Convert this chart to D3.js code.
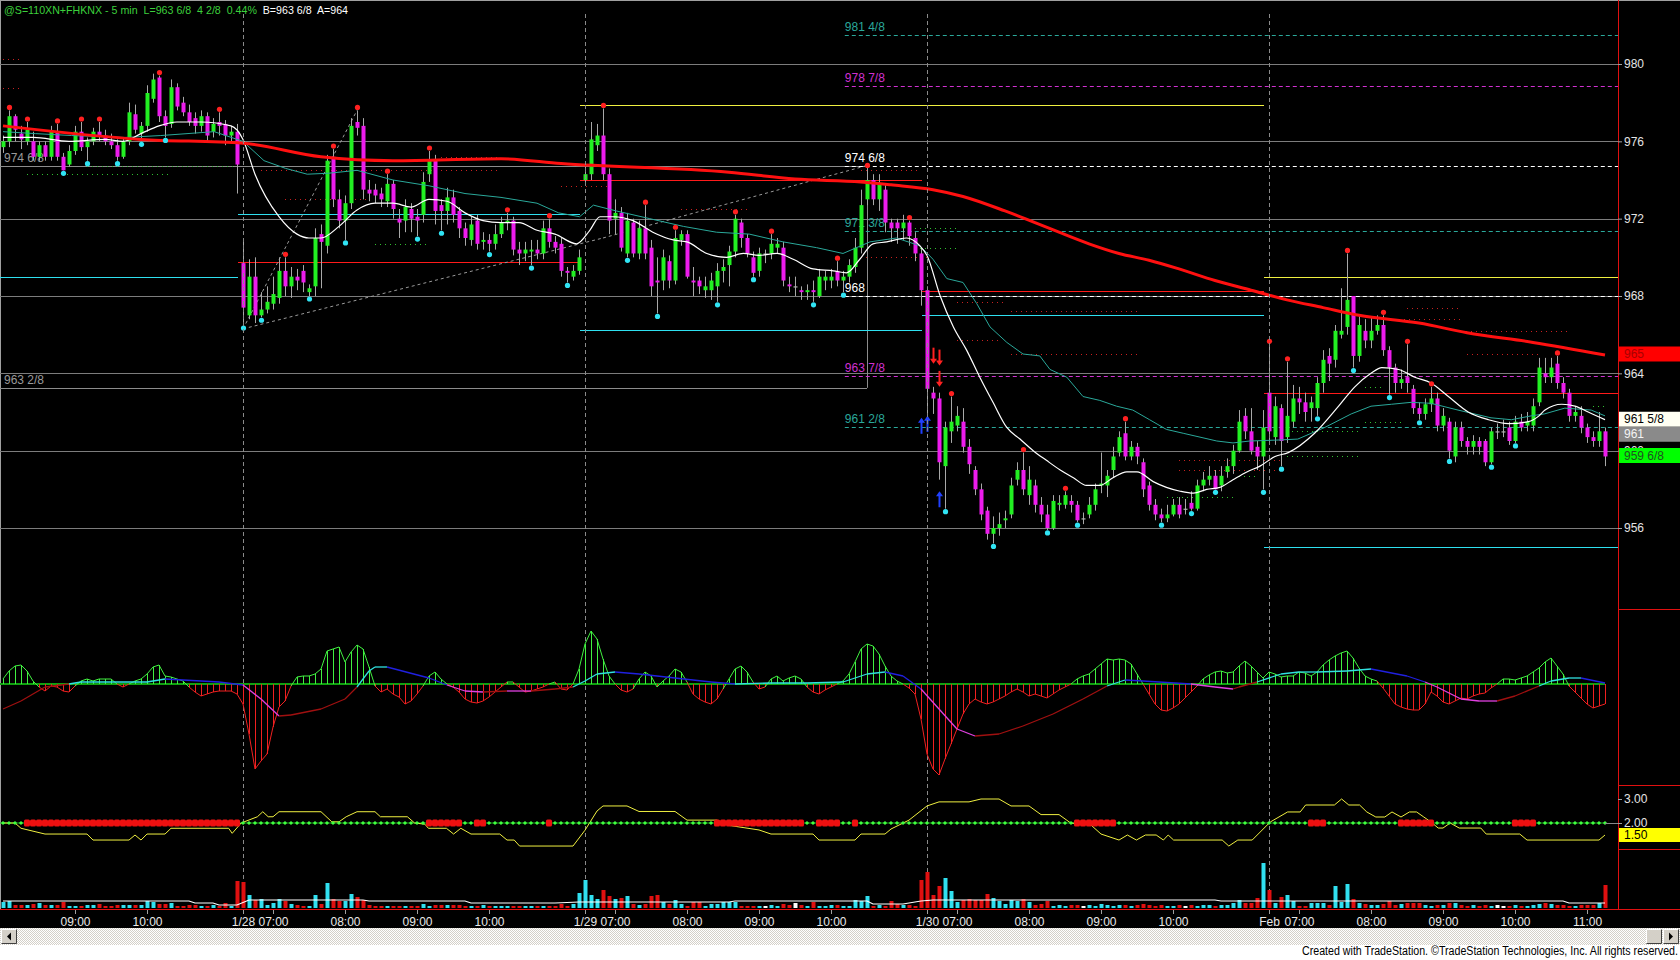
<!DOCTYPE html>
<html><head><meta charset="utf-8">
<script src="https://cdn.jsdelivr.net/npm/d3@7"></script>
<style>html,body{margin:0;padding:0;background:#000;overflow:hidden}svg{display:block}text{font-family:"Liberation Sans",Arial,sans-serif}</style>
</head><body>
<svg id="c" width="1680" height="960"></svg>
<script>
// ---------------- DATA ----------------
const open = [
975.7,976.0,977.3,976.4,976.0,976.0,975.2,975.8,975.2,976.5,975.2,974.8,975.5,976.5,975.7,976.0,976.5,976.3,976.0,975.8,975.2,976.0,977.4,976.4,976.8,978.2,979.3,977.3,976.9,978.8,978.0,977.5,977.2,976.8,977.3,976.5,977.0,976.9,976.3,976.5,
969.7,967.0,969.0,967.0,967.3,967.6,967.9,969.3,968.5,969.0,969.3,968.2,968.5,971.2,970.6,975.2,973.0,971.9,972.8,977.0,976.8,973.5,973.5,973.3,972.9,973.8,972.0,971.9,972.5,972.1,972.2,974.3,975.0,972.7,972.4,973.1,972.4,971.5,970.9,971.9,970.8,970.9,970.7,971.2,971.8,971.9,970.4,970.2,970.3,970.4,970.2,971.5,970.8,970.7,969.3,969.0,969.3,
974.0,974.3,975.8,976.3,974.3,972.0,972.3,970.2,971.8,970.2,971.5,970.5,968.8,968.8,969.8,968.8,970.9,971.2,968.8,968.8,968.3,968.3,968.5,969.3,969.6,970.3,971.8,971.0,970.0,969.3,970.2,970.2,970.5,970.5,968.6,968.5,968.3,968.2,968.3,968.0,968.8,968.8,969.3,968.8,969.0,969.5,970.5,973.0,974.0,973.0,973.5,971.8,971.8,971.5,971.8,971.0,970.2,
968.3,963.0,962.7,959.2,961.0,961.3,961.5,960.2,959.0,958.0,956.9,955.7,956.0,956.4,956.7,958.5,959.0,957.7,958.2,957.2,956.7,956.0,957.2,957.2,957.4,957.2,956.5,956.7,957.2,958.2,958.2,959.0,959.9,960.9,959.7,960.2,959.4,958.2,957.2,956.7,956.5,956.7,957.2,957.0,957.3,957.0,958.2,958.5,958.7,958.2,958.9,959.2,960.0,961.8,961.0,960.2,959.7,
963.0,960.7,962.2,960.7,961.5,962.7,962.5,962.2,962.2,963.5,964.9,964.7,966.0,966.4,968.0,964.9,966.2,965.7,966.2,966.5,965.2,964.3,963.5,963.8,963.2,962.2,961.9,962.4,962.7,961.3,961.5,959.7,961.2,960.5,960.2,960.5,960.5,959.4,961.0,961.0,961.2,960.5,961.5,961.3,961.3,962.5,964.0,963.8,964.5,963.5,963.0,961.8,961.8,961.2,960.7,960.5,961.0];
const high = [
976.3,977.6,977.4,976.8,977.0,976.5,976.0,976.0,976.8,976.9,975.4,975.8,976.8,977.0,976.2,976.7,977.0,976.6,976.4,976.1,976.2,978.0,977.9,977.0,978.9,979.5,979.4,977.6,979.2,979.0,978.3,977.9,977.5,977.6,977.5,977.2,977.5,977.1,976.8,976.9,
971.0,969.9,970.0,968.2,968.5,969.0,970.0,970.0,969.5,969.4,969.6,968.6,971.5,971.7,975.3,975.6,973.5,973.2,977.2,977.6,977.2,974.0,973.8,973.6,974.3,974.0,972.5,973.0,972.8,972.5,974.4,975.5,975.3,973.0,973.6,973.5,972.6,971.8,972.1,972.2,971.3,971.2,971.7,972.1,972.3,972.1,970.8,970.8,970.9,970.9,971.9,972.0,971.1,971.0,969.5,969.6,970.4,
974.8,977.0,976.9,977.7,974.6,973.0,972.6,972.3,972.0,971.9,972.7,970.9,970.0,970.4,970.1,971.4,971.4,971.4,969.5,969.0,969.0,969.2,969.7,969.9,970.6,972.2,972.0,971.2,970.3,970.5,970.4,971.2,971.0,970.8,969.0,969.0,968.5,968.6,968.8,969.4,969.3,969.4,969.8,969.3,969.9,971.0,973.5,974.6,974.3,974.3,973.8,972.0,972.0,972.2,971.9,971.3,970.5,
968.5,963.3,963.0,961.5,962.8,962.3,962.2,960.6,959.2,958.3,957.1,956.6,956.8,956.9,958.6,959.4,959.9,959.2,958.5,957.6,957.2,957.7,957.7,957.9,957.7,957.4,956.8,957.6,958.3,959.9,959.0,960.2,961.0,961.5,960.5,960.4,959.6,958.4,957.5,957.0,957.2,957.5,957.6,957.5,957.9,958.5,958.9,959.2,959.0,959.2,959.6,960.3,962.1,962.2,962.2,960.5,962.1,
965.5,962.8,962.4,964.6,963.4,963.3,963.0,962.8,963.8,965.2,965.3,966.5,968.4,970.2,968.0,967.0,966.8,966.9,967.0,967.0,965.4,964.5,964.2,965.5,963.4,962.5,962.7,963.3,963.0,962.2,961.7,961.5,961.5,960.7,960.8,960.7,960.6,961.2,961.4,961.6,961.5,961.8,961.9,962.0,962.7,964.8,964.8,964.8,964.9,963.8,963.2,962.3,962.3,961.4,961.0,962.0,961.2];
const low = [
975.4,975.7,976.0,975.6,975.8,975.0,975.0,975.0,975.0,975.0,974.5,974.7,975.3,975.5,975.0,975.8,976.0,975.8,975.6,975.0,975.1,975.8,976.4,976.0,976.5,978.0,977.0,976.2,976.7,977.6,977.3,976.8,976.4,976.5,976.0,976.2,976.3,975.8,975.9,973.3,
966.5,966.8,966.6,966.9,967.1,967.3,967.6,968.0,967.9,968.3,968.2,968.0,968.0,968.4,970.2,972.6,971.5,970.9,972.5,976.3,973.0,972.9,972.8,972.6,972.6,972.0,971.0,971.3,971.3,971.1,971.8,973.9,971.7,971.4,971.7,971.8,971.0,970.6,970.6,970.4,970.4,970.3,970.4,971.0,971.4,970.1,969.6,969.8,969.6,969.9,969.9,970.5,970.2,969.0,968.7,968.8,969.1,
973.8,974.0,975.5,974.0,971.2,971.2,970.3,970.0,970.0,969.9,969.9,968.0,967.1,968.3,968.4,968.6,970.6,968.9,968.0,968.1,967.9,967.8,967.7,968.7,968.5,970.0,970.5,970.0,969.0,969.0,969.7,969.9,970.2,968.5,968.2,968.0,967.8,967.8,967.7,967.9,968.3,968.4,968.5,968.2,968.7,969.2,970.2,972.7,972.7,972.4,971.3,970.8,970.7,970.9,970.6,969.8,967.5,
961.5,961.9,958.5,957.0,960.4,961.0,959.9,958.8,957.7,956.4,955.4,955.2,955.6,956.0,956.5,958.2,957.7,957.2,956.8,956.3,955.9,955.9,956.9,957.0,956.8,956.3,956.2,956.5,956.9,957.8,957.6,958.6,959.7,959.5,959.5,959.3,957.6,956.9,956.4,956.3,956.3,956.6,956.5,956.7,956.9,956.9,957.9,958.2,958.0,957.9,958.6,958.8,959.9,960.6,959.8,959.0,958.0,
960.5,960.3,959.2,960.4,961.2,961.9,961.5,961.5,961.8,963.0,963.6,964.3,965.8,966.0,964.3,964.6,965.3,965.3,966.0,964.9,962.9,963.0,963.2,963.0,961.9,961.6,961.6,962.0,961.0,961.0,959.6,959.4,960.2,959.8,959.8,959.8,959.2,959.3,960.6,960.7,960.3,960.4,961.0,961.0,961.0,962.3,963.5,963.5,963.2,962.7,961.5,961.5,960.9,960.4,960.2,960.2,959.2];
const close = [
976.0,977.3,976.6,976.1,976.6,975.2,975.8,975.2,976.5,975.2,974.5,975.5,976.5,975.7,976.0,976.5,976.3,976.0,975.8,975.2,976.0,977.5,976.6,976.8,978.5,979.2,977.3,976.8,978.8,977.8,977.5,977.0,976.8,977.3,976.3,976.9,976.8,976.3,976.5,974.8,
967.4,969.0,967.0,967.3,967.7,968.1,969.3,968.5,969.0,968.8,968.7,968.4,971.0,970.8,975.0,973.0,971.9,972.8,976.8,976.7,973.5,973.3,973.2,973.0,973.8,972.5,971.8,972.6,972.0,971.9,973.9,975.0,972.4,972.4,973.1,972.2,971.5,971.0,971.7,970.7,970.9,970.7,971.2,971.8,971.9,970.4,970.2,970.4,970.4,970.2,971.5,970.8,970.5,969.3,969.2,969.3,970.0,
974.3,976.1,976.3,974.3,971.9,972.3,970.5,971.9,970.2,971.5,970.2,968.5,968.7,970.0,968.8,971.0,971.2,969.0,968.7,968.5,968.5,968.8,969.3,969.5,970.3,972.0,971.0,970.2,969.2,970.2,970.2,970.7,970.7,968.8,968.5,968.5,968.2,968.3,968.2,969.0,969.0,969.0,968.8,969.0,969.6,970.5,972.7,974.0,973.0,973.8,971.8,971.5,971.5,971.8,971.1,970.2,968.3,
963.2,962.7,959.4,961.2,961.5,961.8,960.2,959.3,958.0,956.7,955.7,956.0,956.2,956.5,958.2,959.0,958.0,958.5,957.2,956.7,956.0,957.4,957.3,957.7,957.2,956.4,956.5,957.2,958.0,958.3,958.7,959.7,960.7,959.7,960.2,959.7,958.0,957.2,956.7,956.5,956.7,957.2,956.7,957.0,957.0,958.2,958.5,958.7,958.0,958.7,959.2,960.0,961.5,961.0,960.0,959.7,961.2,
961.0,962.3,960.5,961.8,962.7,962.5,962.0,962.5,963.5,964.7,964.5,966.2,966.2,967.8,964.9,966.5,965.7,966.2,966.5,965.2,964.3,963.5,963.7,963.5,962.2,961.9,962.4,962.7,961.3,961.8,960.0,961.2,960.5,960.2,960.5,960.2,959.4,961.0,961.0,961.0,960.5,961.5,961.2,961.5,962.3,964.3,963.8,964.3,963.5,963.0,961.8,962.0,961.2,960.7,960.5,961.0,959.7];
const volume = [
6,7,3,3,3,4,5,3,3,3,6,2,2,2,3,3,4,2,2,3,3,3,3,3,7,6,4,4,5,2,2,3,3,2,2,3,2,5,2,27,
26,13,8,9,3,5,9,7,4,3,2,2,13,4,25,9,7,7,14,11,8,3,2,2,2,2,2,2,2,2,4,2,3,3,3,3,3,2,2,2,3,2,2,2,2,2,2,2,2,2,2,2,2,4,2,4,15,
28,13,9,18,12,9,10,12,4,3,4,12,13,6,4,8,4,2,6,6,2,4,4,6,6,6,2,2,2,2,2,3,2,4,3,5,3,2,6,2,2,3,3,2,2,8,7,12,2,3,2,7,4,3,3,2,28,
36,13,22,30,17,6,8,9,8,8,14,10,7,4,8,7,9,6,3,4,7,2,3,2,3,3,2,3,2,4,3,2,3,3,2,3,4,3,2,3,2,2,3,2,3,2,3,3,2,3,3,5,8,5,5,10,45,
18,5,11,13,7,2,2,5,5,5,3,22,6,24,9,5,4,3,3,4,7,3,4,5,5,5,3,2,3,3,5,5,3,2,3,2,3,2,3,2,2,3,2,2,3,4,5,4,3,3,2,2,3,3,3,5,23];
const volAvg = [[0,7],[31,7],[32,5],[35,5],[36,3],[39,3],[41,8],[60,8],[61,7],[77,7],[78,5],[92,5],[96,6],[121,6],[122,7],[144,7],[145,4],[150,4],[153,7],[155,8],[202,8],[203,7],[260,7],[261,5],[267,5]];
const redMA = [[0,976.8],[23,976.1],[40,975.9],[53,975.2],[65,975.0],[83,975.1],[93,974.85],[121,974.4],[132,974.05],[143,973.9],[148,973.75],[155,973.5],[160,973.15],[167,972.4],[172,971.8],[176,971.3],[181,970.7],[186,970.2],[191,969.85],[196,969.4],[202,968.8],[208,968.3],[214,967.8],[220,967.4],[226,967.0],[236,966.6],[244,966.1],[255,965.6],[267,964.95]];
const whiteMA = [[0,976.2],[5,976.2],[11,976.0],[17,976.1],[20,976.0],[23,976.4],[26,976.8],[29,977.0],[33,977.0],[38,976.8],[40,976.1],[42,974.3],[46,972.1],[49,971.2],[51,971.0],[53,971.0],[56,971.6],[59,972.45],[62,972.8],[65,972.8],[68,972.6],[71,973.0],[74,972.9],[77,972.3],[80,971.9],[83,971.8],[86,971.8],[89,971.4],[92,971.2],[95.6,970.7],[97.8,971.4],[99.5,972.1],[101.7,972.1],[105,971.9],[108.3,971.3],[111.7,970.9],[114,970.8],[117.3,970.2],[120.6,970.0],[123.4,970.2],[126,970.1],[129,970.2],[131.7,969.9],[135,969.4],[138.4,969.3],[140.6,969.2],[142.8,969.9],[145,970.7],[147.3,970.8],[150.6,971.0],[152.8,970.6],[154,970.1],[156.2,968.0],[158.4,966.4],[160.6,965.2],[162.8,963.8],[165,962.5],[167.3,961.2],[169.5,960.6],[171.7,960.0],[173.9,959.5],[176.2,959.0],[178.4,958.6],[180.6,958.2],[182.8,958.2],[185,958.6],[187.3,958.9],[189,958.9],[191.7,958.4],[193.9,958.1],[196.2,957.9],[198.4,957.8],[200.6,958.0],[202.8,958.1],[205,958.5],[207.3,958.9],[209.5,959.2],[212,959.7],[214.2,959.9],[218.6,960.9],[222.6,962.3],[225.3,963.3],[228,964.0],[229.8,964.3],[232.6,964.2],[235.3,963.8],[238,963.5],[240.9,962.8],[244.2,962.0],[247.6,961.6],[250.9,961.4],[254.2,961.5],[256,961.8],[257,962.1],[259.8,962.4],[262,962.3],[264.2,962.0],[267,961.6]];
const tealMA = [[0,976.5],[5.4,976.4],[11.4,976.3],[20.3,976.2],[26.3,976.3],[35.2,976.5],[40,976.0],[43.5,975.0],[47.1,974.6],[50.7,974.3],[54.3,974.35],[59,974.5],[65,974.0],[71,973.7],[77,973.3],[83,973.1],[89,972.8],[92.6,972.3],[96.1,972.1],[98.4,972.7],[102.2,972.4],[107.8,972.0],[113.4,971.6],[118.9,971.3],[124.4,971.2],[130,970.8],[135.6,970.5],[140,970.2],[144.5,970.8],[148.9,971.0],[152.8,970.6],[155,969.9],[157.3,968.9],[160,968.7],[162.3,967.6],[164.5,966.4],[167.3,965.6],[170,965.0],[172.8,964.9],[174.5,964.2],[177.3,963.8],[180,962.8],[182.8,962.6],[185.6,962.3],[188.3,962.1],[191.1,961.6],[193.9,961.1],[196.7,960.9],[199.5,960.7],[202.3,960.5],[205,960.4],[207.8,960.5],[212.5,960.55],[215.8,960.6],[220.3,961.2],[224.7,961.9],[228,962.3],[231.4,962.4],[234.7,962.5],[238,962.45],[242.5,962.1],[248,961.7],[251.4,961.6],[254.7,961.8],[256.9,961.9],[260.3,962.2],[264.7,962.1],[267,961.8]];
const redDots = [1,4,9,13,16,26,36,47,55,59,64,71,84,91,100,107,112,122,128,139,144,151,158,170,177,187,211,214,224,230,234,238,259];
const cyanDots = [10,14,19,23,27,40,43,51,57,69,73,81,88,94,104,109,119,125,135,140,157,165,174,179,193,198,202,210,213,219,225,231,236,241,248,252];
const histogram = [
5,13,18,19,13,3,-3,-7,-2,-3,-7,-8,-2,3,5,3,5,5,5,0,-3,0,3,5,10,17,19,8,7,5,3,-3,-8,-12,-10,-8,-7,-7,-7,-10,
-20,-50,-85,-77,-70,-43,-23,-17,-2,7,8,8,10,15,33,35,37,22,32,39,35,17,-2,-8,-5,-10,-13,-20,-17,-10,-2,8,12,5,0,-3,-8,-15,-18,-19,-17,-13,-8,-3,2,2,-3,-8,-7,-5,-3,0,2,-5,-6,0,15,
40,53,45,25,8,0,-6,-8,-5,5,12,8,-3,3,8,15,12,2,-10,-15,-18,-20,-15,-5,5,15,18,12,2,-5,-3,5,8,3,6,8,5,-3,-8,-10,-6,-3,0,3,10,22,35,40,38,30,18,8,3,0,-4,-10,-35,
-70,-85,-91,-75,-60,-45,-30,-20,-15,-18,-20,-18,-15,-12,-8,-5,-8,-12,-10,-12,-14,-10,-6,-3,0,5,8,10,15,20,25,24,25,24,20,10,0,-10,-20,-26,-27,-24,-20,-14,-8,-2,5,9,12,13,11,12,18,23,18,12,6,
12,10,7,8,8,12,11,8,12,19,24,28,31,33,26,16,8,5,3,-4,-12,-20,-23,-25,-26,-26,-20,-8,-12,-18,-20,-17,-14,-15,-12,-10,-9,-4,0,5,5,4,6,8,12,16,22,26,18,10,-2,-8,-14,-20,-24,-22,-20];
const signal = [[0,-25],[3,-17],[7,-3],[11,0],[13,2],[24,2],[27,5],[30,4],[36,2],[40,-1],[43,-15],[46,-32],[48,-31],[53,-25],[57,-15],[59,-3],[61,13],[62,17],[64,17],[71,6],[74,-1],[77,-7],[80,-8],[84,-7],[88,-7],[92,-5],[95,-3],[97,3],[99,10],[102,12],[106,10],[112,6],[118,2],[122,0],[128,1],[134,1],[140,2],[144,10],[147,12],[150,8],[153,-5],[156,-25],[159,-45],[162,-52],[166,-50],[170,-42],[175,-30],[180,-15],[184,-2],[187,4],[190,3],[198,0],[202,-3],[205,-5],[206,-3],[209,2],[213,10],[216,12],[219,12],[224,13],[228,15],[234,8],[237,2],[239,-3],[243,-15],[246,-17],[249,-17],[252,-12],[256,-2],[258,3],[261,6],[263,6],[267,1]];
const ratio = [[0,2.0],[2,2.0],[3,1.78],[7,1.54],[14,1.54],[15,1.29],[21,1.29],[22,1.5],[23,1.29],[24,1.54],[27,1.54],[28,1.78],[37.6,1.78],[38.2,1.57],[39.7,2.0],[42.4,2.26],[43.3,2.47],[44.2,2.26],[45,2.26],[46,2.47],[53,2.47],[54.8,2.05],[56,2.05],[57.2,2.26],[59,2.47],[62,2.47],[62.9,2.26],[67.4,2.26],[68.6,2.0],[70.3,1.95],[70.9,1.78],[73.9,1.78],[75.1,1.54],[76.3,1.78],[78,1.54],[82.8,1.54],[84,1.29],[85.2,1.29],[86.1,1.04],[95,1.04],[97,1.7],[99,2.5],[100,2.71],[104,2.71],[106,2.48],[112,2.48],[114,2.12],[119,2.12],[121,1.9],[126,1.71],[128,1.54],[135,1.54],[136,1.29],[142,1.29],[143,1.54],[147,1.54],[148,1.75],[151,2.12],[154,2.71],[156,2.88],[161,2.88],[163,3.0],[166,3.0],[168,2.71],[171,2.71],[173,2.35],[176,2.35],[178,1.99],[181,1.99],[183,1.54],[186,1.29],[187.4,1.5],[188.9,1.29],[190.4,1.5],[192.2,1.5],[193.4,1.29],[194.2,1.5],[195.1,1.29],[203.2,1.29],[204.3,1.04],[205.8,1.29],[208.2,1.29],[211.2,2.04],[214.1,2.46],[216.2,2.46],[217.1,2.75],[221.9,2.75],[223.1,3.0],[224.3,2.75],[226.1,2.75],[227.3,2.46],[228.8,2.25],[230.3,2.25],[231.5,2.46],[233,2.25],[234.4,2.46],[235.6,2.46],[236.8,2.25],[238,2.04],[239.2,1.79],[240,1.79],[241.2,2.0],[242.7,1.79],[246.3,1.79],[247.2,1.54],[252.8,1.54],[254,1.29],[266,1.29],[267,1.5]];
const redFlagRanges = [[4,39],[71,76],[79,80],[91,91],[119,133],[136,139],[142,142],[179,185],[218,220],[233,238],[252,255]];
const priceTicks = [980,976,972,968,964,960,956];
const ratioTicks = [3,2];
const timeTicks = [[12,"09:00"],[24,"10:00"],[40,"1/28"],[45,"07:00"],[57,"08:00"],[69,"09:00"],[81,"10:00"],[97,"1/29"],[102,"07:00"],[114,"08:00"],[126,"09:00"],[138,"10:00"],[154,"1/30"],[159,"07:00"],[171,"08:00"],[183,"09:00"],[195,"10:00"],[211,"Feb"],[216,"07:00"],[228,"08:00"],[240,"09:00"],[252,"10:00"],[264,"11:00"]];
const dayBreaks = [40,97,154,211];
const sessionLevels = [[-10,40,969.0,"cyan"],[40,97,972.25,"cyan"],[40,97,969.75,"red"],[97,154,966.25,"cyan"],[97,154,974.0,"red"],[97,211,977.9,"yellow"],[154,211,967.0,"cyan"],[154,211,968.25,"red"],[211,270,955.0,"cyan"],[211,270,963.0,"red"],[211,270,969.0,"yellow"]];
const pivotLevels = [[981.5,"981 4/8","teal"],[978.875,"978 7/8","magenta"],[974.75,"974 6/8","white"],[971.375,"971 3/8","teal"],[968.0,"968","white"],[963.875,"963 7/8","magenta"],[961.25,"961 2/8","teal"]];
const pivotStart = 140.3;
const boxLevels = [[974.75,"974 6/8"],[963.25,"963 2/8"]];
const boxEnd = 144;
const trendLines = [[[40,966.3],[59,977.6]],[[40,966.3],[100,971.0]],[[100,971.0],[144,974.75]]];
const redDotted = [[0,3,980.25],[0,3,978.75],[43,83,974.5],[47,61,973.0],[73,83,975.2],[93,101,973.7],[113,124,972.5],[143,153,974.5],[143,154,970.0],[159,167,967.7],[168,189,967.2],[159,166,965.7],[168,189,965.0],[196,213,959.5],[196,213,959.0],[234,243,967.4],[231,243,966.8],[243,261,966.2],[244,256,965.0]];
const greenDotted = [[4,28,974.3],[14,39,974.75],[62,71,970.7],[152,159,971.5],[152,159,970.5],[206,209,958.7],[194,205,957.6],[227,230,963.3],[227,233,961.5],[214,226,961.0],[214,226,959.7],[265,267,962.3]];
const downArrows = [[155,964.5],[156,964.4],[156,963.3]];
const upArrows = [[153,961.7],[154,961.8],[156,957.9]];
const axisBoxes = [[965,"965","#ff0000","#a80000"],[961.625,"961 5/8","#fffff2","#000000"],[961.0,"961","#8a8a8a","#f4f4f4"],[959.75,"959 6/8","#00ff00","#205020"]];
const ratioBox = [1.5,"1.50","#ffff00","#000000"];
const titleGreen = "@S=110XN+FHKNX - 5 min  L=963 6/8  4 2/8  0.44%  ";
const titleWhite = "B=963 6/8  A=964";
const credit = "Created with TradeStation. \u00A9TradeStation Technologies, Inc. All rights reserved.";

// ---------------- DRAWING ----------------
const W = 1680, H = 960, AX = 1618;
const C = {cyan:"#2ee0f0", red:"#ff1a1a", yellow:"#f0f040", teal:"#2aa89a", magenta:"#d030d0", white:"#ffffff"};
const svg = d3.select("#c");
svg.append("rect").attr("width", W).attr("height", H).attr("fill", "#000");
const defs = svg.append("defs");
function clip(id, x0, y0, w, h){ defs.append("clipPath").attr("id", id).append("rect").attr("x", x0).attr("y", y0).attr("width", w).attr("height", h); }
clip("cp", 0, 3, AX, 606); clip("co", 0, 609, AX, 176); clip("cd", 0, 785, AX, 64); clip("cv", 0, 849, AX, 60);
const pat = defs.append("pattern").attr("id", "hatch").attr("width", 2).attr("height", 2).attr("patternUnits", "userSpaceOnUse");
pat.append("rect").attr("width", 2).attr("height", 2).attr("fill", "#ffffff");
pat.append("rect").attr("width", 1).attr("height", 1).attr("fill", "#d4d0c8");
pat.append("rect").attr("x", 1).attr("y", 1).attr("width", 1).attr("height", 1).attr("fill", "#d4d0c8");

const N = close.length;
const x = d3.scaleLinear().domain([0, N - 1]).range([3, 1605]);
const yP = d3.scaleLinear().domain([980, 956]).range([64, 528]);
const yO = d3.scaleLinear().domain([-100, 100]).range([784, 584]);
const yD = d3.scaleLinear().domain([1, 3]).range([847, 799]);
const yV = d3.scaleLinear().domain([0, 60]).range([908, 848]);
const xe = i => x(i) - 5;
const bars = d3.range(N).map(i => ({i, o: open[i], h: high[i], l: low[i], c: close[i], v: volume[i]}));

svg.append("line").attr("x1", 0).attr("x2", W).attr("y1", 0.5).attr("y2", 0.5).attr("stroke", "#a0a0a0");
svg.append("line").attr("x1", 0.5).attr("x2", 0.5).attr("y1", 0).attr("y2", 909).attr("stroke", "#a0a0a0");

// ---- price panel ----
const gP = svg.append("g").attr("clip-path", "url(#cp)");
gP.selectAll(".grid").data(priceTicks).join("line")
  .attr("x1", 0).attr("x2", AX).attr("y1", d => Math.round(yP(d)) + 0.5).attr("y2", d => Math.round(yP(d)) + 0.5)
  .attr("stroke", "#7c7c7c");
svg.append("g").selectAll("line").data(dayBreaks).join("line")
  .attr("x1", d => x(d) + 0.5).attr("x2", d => x(d) + 0.5).attr("y1", 14).attr("y2", 913)
  .attr("stroke", "#8a8a8a").attr("stroke-dasharray", "4,3");
boxLevels.forEach(([p, lab]) => {
  gP.append("line").attr("x1", 0).attr("x2", x(boxEnd)).attr("y1", Math.round(yP(p)) + 0.5).attr("y2", Math.round(yP(p)) + 0.5).attr("stroke", "#8c8c8c");
  gP.append("text").attr("x", 4).attr("y", yP(p) - 4).attr("fill", "#9a9a9a").attr("font-size", 12).text(lab);
});
gP.append("line").attr("x1", x(boxEnd) + 0.5).attr("x2", x(boxEnd) + 0.5).attr("y1", yP(boxLevels[0][0])).attr("y2", yP(boxLevels[1][0])).attr("stroke", "#8c8c8c");
pivotLevels.forEach(([p, lab, col]) => {
  gP.append("line").attr("x1", x(pivotStart)).attr("x2", AX).attr("y1", Math.round(yP(p)) + 0.5).attr("y2", Math.round(yP(p)) + 0.5)
    .attr("stroke", C[col]).attr("stroke-dasharray", "4,3");
  gP.append("text").attr("x", x(pivotStart)).attr("y", yP(p) - 4).attr("fill", C[col]).attr("font-size", 12).text(lab);
});
gP.selectAll(".sl").data(sessionLevels).join("line")
  .attr("x1", d => xe(d[0])).attr("x2", d => xe(d[1])).attr("y1", d => Math.round(yP(d[2])) + 0.5).attr("y2", d => Math.round(yP(d[2])) + 0.5)
  .attr("stroke", d => C[d[3]]).attr("stroke-width", 1.2);
gP.selectAll(".rd").data(redDotted).join("line")
  .attr("x1", d => x(d[0])).attr("x2", d => x(d[1])).attr("y1", d => Math.round(yP(d[2])) + 0.5).attr("y2", d => Math.round(yP(d[2])) + 0.5)
  .attr("stroke", "#c82020").attr("stroke-dasharray", "1,4");
gP.selectAll(".gd").data(greenDotted).join("line")
  .attr("x1", d => x(d[0])).attr("x2", d => x(d[1])).attr("y1", d => Math.round(yP(d[2])) + 0.5).attr("y2", d => Math.round(yP(d[2])) + 0.5)
  .attr("stroke", "#30c030").attr("stroke-dasharray", "1,4");
gP.selectAll(".tl").data(trendLines).join("line")
  .attr("x1", d => x(d[0][0])).attr("y1", d => yP(d[0][1])).attr("x2", d => x(d[1][0])).attr("y2", d => yP(d[1][1]))
  .attr("stroke", "#9a9a9a").attr("stroke-dasharray", "3,3");
gP.selectAll(".wick").data(bars).join("line")
  .attr("x1", d => x(d.i) + 0.5).attr("x2", d => x(d.i) + 0.5).attr("y1", d => yP(d.h)).attr("y2", d => yP(d.l))
  .attr("stroke", "#a8a8a8");
gP.selectAll(".body").data(bars).join("rect")
  .attr("x", d => x(d.i) - 1.5).attr("width", 4)
  .attr("y", d => Math.min(yP(d.o), yP(d.c)))
  .attr("height", d => Math.max(1.2, Math.abs(yP(d.o) - yP(d.c))))
  .attr("fill", d => d.c > d.o ? "#22f022" : d.c < d.o ? "#ec1cec" : "#b0b0b0");
const lineP = d3.line().x(d => x(d[0])).y(d => yP(d[1]));
gP.append("path").datum(tealMA).attr("d", lineP.curve(d3.curveLinear)).attr("fill", "none").attr("stroke", C.teal).attr("stroke-width", 1);
gP.append("path").datum(whiteMA).attr("d", lineP.curve(d3.curveMonotoneX)).attr("fill", "none").attr("stroke", "#ffffff").attr("stroke-width", 1.2);
gP.append("path").datum(redMA).attr("d", lineP.curve(d3.curveMonotoneX)).attr("fill", "none").attr("stroke", "#ff1010").attr("stroke-width", 3);
gP.selectAll(".rdot").data(redDots).join("circle").attr("cx", d => x(d) + 0.5).attr("cy", d => yP(high[d]) - 3).attr("r", 2.6).attr("fill", "#ff2020");
gP.selectAll(".cdot").data(cyanDots).join("circle").attr("cx", d => x(d) + 0.5).attr("cy", d => yP(low[d]) + 3).attr("r", 2.6).attr("fill", "#30e4f4");
function arrow(g, i, p, dir, col){
  const xx = x(i) + 0.5, tip = yP(p), base = tip - dir * 16;
  g.append("line").attr("x1", xx).attr("x2", xx).attr("y1", base).attr("y2", tip - dir * 3).attr("stroke", col).attr("stroke-width", 2);
  g.append("path").attr("d", `M${xx - 3.5},${tip - dir * 5}L${xx + 3.5},${tip - dir * 5}L${xx},${tip}Z`).attr("fill", col);
}
downArrows.forEach(d => arrow(gP, d[0], d[1], 1, "#ff2020"));
upArrows.forEach(d => arrow(gP, d[0], d[1], -1, "#2040ff"));

// ---- oscillator ----
const gO = svg.append("g").attr("clip-path", "url(#co)");
gO.append("line").attr("x1", 0).attr("x2", x(N - 1)).attr("y1", yO(0)).attr("y2", yO(0)).attr("stroke", "#10a010").attr("stroke-width", 2);
gO.selectAll(".hb").data(histogram).join("line")
  .attr("x1", (d, i) => x(i) + 0.5).attr("x2", (d, i) => x(i) + 0.5).attr("y1", yO(0)).attr("y2", d => yO(d))
  .attr("stroke", d => d >= 0 ? "#40f040" : "#f02020");
gO.selectAll(".ho").data(d3.range(N - 1)).join("line")
  .attr("x1", i => x(i)).attr("x2", i => x(i + 1)).attr("y1", i => yO(histogram[i])).attr("y2", i => yO(histogram[i + 1]))
  .attr("stroke", i => (histogram[i] + histogram[i + 1]) >= 0 ? "#40f040" : "#f02020");
gO.selectAll(".sg").data(d3.range(signal.length - 1)).join("line")
  .attr("x1", k => x(signal[k][0])).attr("x2", k => x(signal[k + 1][0]))
  .attr("y1", k => yO(signal[k][1])).attr("y2", k => yO(signal[k + 1][1]))
  .attr("stroke", k => {
    const a = signal[k][1], b = signal[k + 1][1], m = (a + b) / 2;
    if (m >= 0) return b >= a ? "#30e0e0" : "#2020e0";
    return b <= a ? "#e040e0" : "#a01010";
  }).attr("stroke-width", 1.3);

// ---- ratio / dots panel ----
const gD = svg.append("g").attr("clip-path", "url(#cd)");
const flagged = new Set();
redFlagRanges.forEach(([a, b]) => d3.range(a, b + 1).forEach(i => flagged.add(i)));
gD.append("line").attr("x1", 0).attr("x2", x(N - 1)).attr("y1", yD(2)).attr("y2", yD(2)).attr("stroke", "#20b020");
gD.append("path").datum(ratio).attr("d", d3.line().x(d => x(d[0])).y(d => yD(d[1]))).attr("fill", "none").attr("stroke", "#f0f040").attr("stroke-width", 1);
gD.selectAll(".gm").data(d3.range(N).filter(i => !flagged.has(i))).join("rect")
  .attr("x", i => x(i) - 1.5).attr("y", yD(2) - 1.5).attr("width", 3).attr("height", 3)
  .attr("transform", i => `rotate(45 ${x(i)} ${yD(2)})`).attr("fill", "#40ff40");
gD.selectAll(".rm").data(Array.from(flagged)).join("rect")
  .attr("x", i => x(i) - 3).attr("y", yD(2) - 3.5).attr("width", 6).attr("height", 7).attr("rx", 1.5)
  .attr("fill", "#ee1010");

// ---- volume ----
const gV = svg.append("g").attr("clip-path", "url(#cv)");
gV.selectAll(".vb").data(bars).join("rect")
  .attr("x", d => x(d.i) - 1.5).attr("width", 4).attr("y", d => yV(d.v)).attr("height", d => yV(0) - yV(d.v))
  .attr("fill", d => d.c > d.o ? "#30e0f0" : d.c < d.o ? "#e01010" : "#ffffff");
gV.append("path").datum(volAvg).attr("d", d3.line().x(d => x(d[0])).y(d => yV(d[1]))).attr("fill", "none").attr("stroke", "#ffffff").attr("stroke-width", 1.2);

// ---- right axis ----
svg.append("line").attr("x1", AX + 0.5).attr("x2", AX + 0.5).attr("y1", 0).attr("y2", 909).attr("stroke", "#e01010");
[609, 785, 849].forEach(yy => svg.append("line").attr("x1", AX).attr("x2", W).attr("y1", yy + 0.5).attr("y2", yy + 0.5).attr("stroke", "#e01010"));
svg.append("line").attr("x1", 0).attr("x2", W).attr("y1", 909.5).attr("y2", 909.5).attr("stroke", "#e01010");
const axP = svg.append("g").attr("transform", `translate(${AX},0)`).call(d3.axisRight(yP).tickValues(priceTicks).tickSize(4).tickPadding(2).tickFormat(d3.format("d")));
const axD = svg.append("g").attr("transform", `translate(${AX},0)`).call(d3.axisRight(yD).tickValues(ratioTicks).tickSize(4).tickPadding(2).tickFormat(d3.format(".2f")));
[axP, axD].forEach(a => {
  a.select(".domain").remove();
  a.selectAll("line").attr("stroke", "#a0a0a0");
  a.selectAll("text").attr("fill", "#e4e4e4").attr("font-size", 12).attr("font-family", "Liberation Sans, Arial, sans-serif");
});
svg.append("line").attr("x1", x(N - 1)).attr("x2", AX).attr("y1", yD(2) + 0.5).attr("y2", yD(2) + 0.5).attr("stroke", "#8a8a8a");
const bh = 15; let lastBottom = -1e9;
axisBoxes.map(b => ({b, cy: yP(b[0])})).forEach(({b, cy}) => {
  let top = cy - bh / 2; if (top < lastBottom) top = lastBottom; lastBottom = top + bh;
  svg.append("rect").attr("x", AX + 1).attr("y", top).attr("width", W - AX - 1).attr("height", bh).attr("fill", b[2]);
  svg.append("text").attr("x", AX + 6).attr("y", top + bh - 3.5).attr("fill", b[3]).attr("font-size", 12).text(b[1]);
});
{
  const cy = yD(ratioBox[0]), top = cy - 7;
  svg.append("rect").attr("x", AX + 1).attr("y", top).attr("width", W - AX - 1).attr("height", 14).attr("fill", ratioBox[2]);
  svg.append("text").attr("x", AX + 6).attr("y", top + 11).attr("fill", ratioBox[3]).attr("font-size", 12).text(ratioBox[1]);
}

// ---- time axis ----
const gT = svg.append("g");
gT.selectAll("line").data(timeTicks).join("line").attr("x1", d => x(d[0]) + 0.5).attr("x2", d => x(d[0]) + 0.5).attr("y1", 910).attr("y2", 914).attr("stroke", "#a0a0a0");
gT.selectAll("text").data(timeTicks).join("text").attr("x", d => x(d[0]) + 0.5).attr("y", 926).attr("text-anchor", "middle")
  .attr("fill", "#e8e8e8").attr("font-size", 12).text(d => d[1]);

// ---- title: a single text element with two coloured runs that flow ----
const tt = svg.append("text").attr("x", 4).attr("y", 14).attr("font-size", 11).style("white-space", "pre")
  .attr("textLength", 344).attr("lengthAdjust", "spacingAndGlyphs");
tt.append("tspan").attr("fill", "#3cd03c").text(titleGreen);
tt.append("tspan").attr("fill", "#ffffff").text(titleWhite);

// ---- scrollbar & footer ----
svg.append("rect").attr("x", 0).attr("y", 928).attr("width", W).attr("height", 17).attr("fill", "url(#hatch)");
function button(x0, w, dir){
  const g = svg.append("g");
  g.append("rect").attr("x", x0).attr("y", 929).attr("width", w).attr("height", 15).attr("fill", "#d4d0c8");
  g.append("path").attr("d", `M${x0 + 0.5},${943.5}V${929.5}H${x0 + w - 0.5}`).attr("fill", "none").attr("stroke", "#ffffff");
  g.append("path").attr("d", `M${x0 + 0.5},${943.5}H${x0 + w - 0.5}V${929.5}`).attr("fill", "none").attr("stroke", "#404040");
  const cx = x0 + w / 2, cy = 936.5;
  if (dir < 0) g.append("path").attr("d", `M${cx + 2},${cy - 4}L${cx - 2},${cy}L${cx + 2},${cy + 4}Z`).attr("fill", "#000");
  if (dir > 0) g.append("path").attr("d", `M${cx - 2},${cy - 4}L${cx + 2},${cy}L${cx - 2},${cy + 4}Z`).attr("fill", "#000");
}
button(1, 16, -1); button(1646, 16, 0); button(1663, 16, 1);
svg.append("rect").attr("x", 0).attr("y", 945).attr("width", W).attr("height", 15).attr("fill", "#ffffff");
svg.append("text").attr("x", 1678).attr("y", 954.5).attr("text-anchor", "end").attr("fill", "#000").attr("font-size", 12)
  .attr("textLength", 376).attr("lengthAdjust", "spacingAndGlyphs").text(credit);
</script>
</body></html>
